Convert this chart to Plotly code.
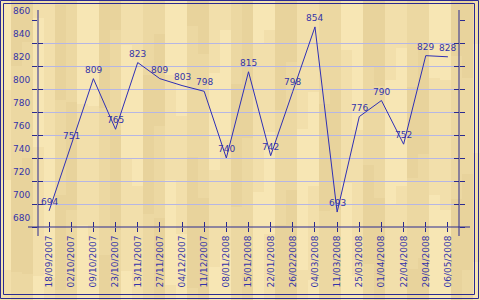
import plotly.graph_objects as go

dates = ["18/09/2007", "02/10/2007", "09/10/2007", "23/10/2007", "13/11/2007",
         "27/11/2007", "04/12/2007", "11/12/2007", "08/01/2008", "15/01/2008",
         "22/01/2008", "26/02/2008", "04/03/2008", "11/03/2008", "25/03/2008",
         "01/04/2008", "22/04/2008", "29/04/2008", "06/05/2008"]
values = [694, 751, 809, 765, 823, 809, 803, 798, 740, 815,
          742, 798, 854, 693, 776, 790, 752, 829, 828]
y_ticks = [680, 700, 720, 740, 760, 780, 800, 820, 840, 860]

W, H = 480, 300
L, R, T, B = 38, 21, 20, 73
PW, PH = W - L - R, H - T - B

def px(x):
    return (x - L) / PW

def py(y):
    return (H - B - y) / PH

NAVY = "#2a2a90"
BLUE = "#2f2fb4"
TXT = "#3434a8"
GRID = "#b6b6e4"

fig = go.Figure()
fig.add_trace(go.Scatter(
    x=dates, y=values, mode="lines",
    line=dict(color=BLUE, width=1), hoverinfo="skip", showlegend=False, cliponaxis=False))
fig.add_trace(go.Scatter(
    x=dates, y=values, mode="lines", line=dict(width=0), xaxis="x2", yaxis="y2",
    hoverinfo="skip", showlegend=False))

annotations = [dict(x=d, y=v, xref="x", yref="y", text=str(v), showarrow=False,
                    yshift=9, yanchor="middle", xanchor="center",
                    font=dict(family="DejaVu Sans", size=9, color=TXT))
               for d, v in zip(dates, values)]

shapes = []
# wood planks background (decoration)
shades = ["#f7e6b4", "#ecd8a2", "#f2dfab", "#e8d39c"]
colw = 11
ncol = W // colw + 1
for c in range(ncol):
    seglen = 90 + (c * 13) % 60
    off = -((c * 37) % seglen)
    s = 0
    y = off
    while y < H:
        col = shades[(c * 3 + s * 2 + (c // 2)) % len(shades)]
        x0, x1 = c * colw, c * colw + colw
        shapes.append(dict(type="rect", xref="paper", yref="paper",
                           x0=px(x0), x1=px(x1), y0=py(max(y, 0)), y1=py(min(y + seglen, H)),
                           line=dict(width=0), fillcolor=col, layer="below"))
        y += seglen
        s += 1

# axis lines extending past the plot area
shapes.append(dict(type="line", xref="paper", yref="paper", x0=0, x1=0,
                   y0=py(236), y1=py(10), line=dict(color=NAVY, width=1)))
shapes.append(dict(type="line", xref="paper", yref="paper", x0=1, x1=1,
                   y0=py(236), y1=py(10), line=dict(color=NAVY, width=1)))
shapes.append(dict(type="line", xref="paper", yref="paper", x0=px(28), x1=px(470),
                   y0=0, y1=0, line=dict(color=NAVY, width=1)))
# double border
for a, bx, by in [(0.5, 478.5, 298.5), (3.5, 474.5, 294.5)]:
    shapes.append(dict(type="rect", xref="paper", yref="paper",
                       x0=px(a), x1=px(bx), y0=py(a), y1=py(by),
                       line=dict(color=NAVY, width=1), fillcolor="rgba(0,0,0,0)"))

font = dict(family="DejaVu Sans", size=9, color=TXT)
fig.update_layout(
    width=W, height=H, margin=dict(l=L, r=R, t=T, b=B, autoexpand=False),
    paper_bgcolor="#f1dfaa", plot_bgcolor="rgba(0,0,0,0)",
    font=font, shapes=shapes, annotations=annotations,
    xaxis=dict(type="category", categoryorder="array", categoryarray=dates,
               range=[-0.5, len(dates) - 0.5], showgrid=False, showline=False,
               zeroline=False, ticks="outside", ticklen=4, tickcolor=NAVY,
               tickangle=-90, tickfont=font, fixedrange=True),
    yaxis=dict(range=[680, 860], tickvals=y_ticks, showgrid=True, gridcolor=GRID,
               gridwidth=1, showline=False, zeroline=False, ticks="outside",
               ticklen=5, tickcolor=NAVY, mirror="ticks", tickfont=font,
               ticklabelshift=-9, fixedrange=True),
    xaxis2=dict(type="category", categoryorder="array", categoryarray=dates,
                range=[-0.5, len(dates) - 0.5], overlaying="x", anchor="y2",
                showgrid=False, showline=False, zeroline=False, ticks="inside",
                ticklen=5, tickcolor=NAVY, showticklabels=False, side="bottom"),
    yaxis2=dict(range=[680, 860], tickvals=y_ticks, overlaying="y", anchor="x2",
                showgrid=False, showline=False, zeroline=False, ticks="inside",
                ticklen=5, tickcolor=NAVY, mirror="ticks", showticklabels=False),
)
fig.write_html("out.html")
